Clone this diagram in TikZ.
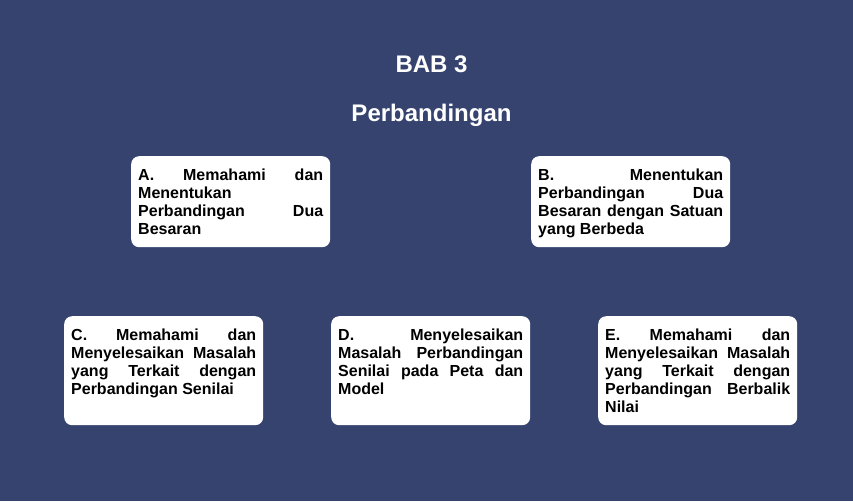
\documentclass[tikz,border=0pt]{standalone}
\usepackage{fontspec}
\setmainfont{Liberation Sans}
\definecolor{babbg}{RGB}{54,67,111}
\hyphenpenalty=10000
\exhyphenpenalty=10000
\tolerance=9999

\begin{document}
\begin{tikzpicture}[x=1pt,y=-1pt]
    \newcommand{\toprow}{156} % top edge of the upper boxes
    \newcommand{\botrow}{316} % top edge of the lower boxes
    \newcommand{\midx}{431.5}

    % set the style of the boxes and titles
    \tikzset{
        topic/.style={
            anchor=north west,
            fill=white,
            rounded corners=8pt,
            inner xsep=7pt,
            inner ysep=0pt,
            text width=185pt,
            align=justify,
            font=\bfseries\fontsize{16}{18}\selectfont,
            text height=24.5pt
            },
        short/.style={text depth=66.5pt},
        tall/.style={text depth=84.5pt},
        heading/.style={
            text=white,
            anchor=base,
            font=\bfseries\fontsize{24}{28}\selectfont
            }
    }

    % background
    \useasboundingbox (0,0) rectangle (853,501);
    \fill[babbg] (0,0) rectangle (853,501);

    % titles
    \node[heading] (bab) at (\midx,72.5) {BAB 3};
    \node[heading] (judul) at (\midx,121.5) {Perbandingan};

    % upper row
    \node[topic, short] (a) at (131,\toprow) {A. Memahami dan\linebreak Menentukan Perbandingan Dua Besaran};
    \node[topic, short] (b) at (531,\toprow) {B. Menentukan Perbandingan Dua Besaran dengan Satuan yang Berbeda};

    % lower row
    \node[topic, tall] (c) at (64,\botrow) {C. Memahami dan Menyelesaikan Masalah yang Terkait dengan Perbandingan Senilai};
    \node[topic, tall] (d) at (331,\botrow) {D. Menyelesaikan Masalah Perbandingan Senilai pada Peta dan Model};
    \node[topic, tall] (e) at (598,\botrow) {E. Memahami dan Menyelesaikan Masalah yang Terkait dengan Perbandingan Berbalik Nilai};

\end{tikzpicture}
\end{document}
